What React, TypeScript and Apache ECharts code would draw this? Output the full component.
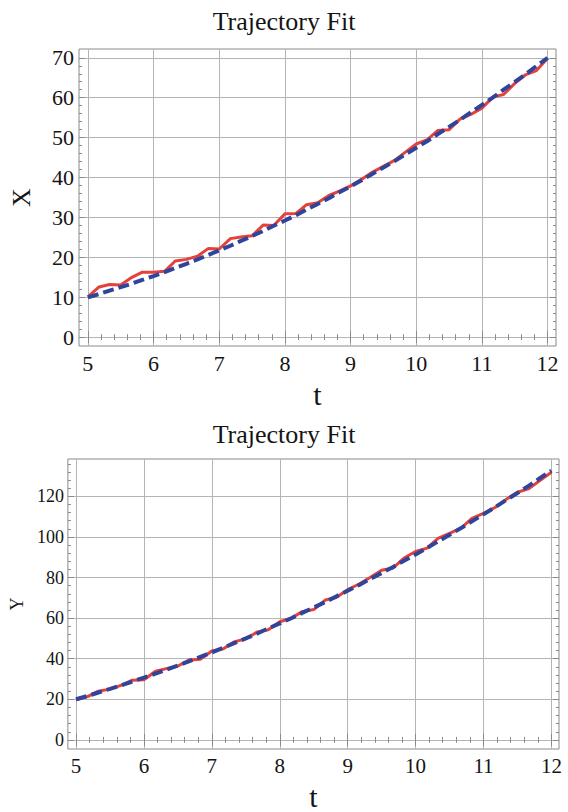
import React, { useEffect, useRef } from "react";
import * as echarts from "echarts";

// time samples (t)
const T = [5, 5.17, 5.33, 5.5, 5.67, 5.83, 6, 6.17, 6.33, 6.5, 6.67, 6.83, 7, 7.17, 7.33, 7.5, 7.67, 7.83, 8, 8.17, 8.33, 8.5, 8.67, 8.83, 9, 9.17, 9.33, 9.5, 9.67, 9.83, 10, 10.17, 10.33, 10.5, 10.67, 10.83, 11, 11.17, 11.33, 11.5, 11.67, 11.83, 12];

// X trajectory: measured and fitted
const X_DATA = [10.1, 12.6, 13.2, 13.1, 15.0, 16.3, 16.3, 16.5, 19.1, 19.5, 20.3, 22.2, 22.1, 24.7, 25.1, 25.4, 28.1, 28.0, 30.9, 31.0, 33.2, 33.7, 35.5, 36.6, 37.9, 39.6, 41.3, 42.8, 44.3, 46.3, 48.4, 49.5, 51.8, 52.0, 54.7, 55.8, 57.4, 60.2, 60.8, 63.6, 65.8, 66.8, 69.9];
const X_FIT = [10, 10.81, 11.66, 12.53, 13.43, 14.37, 15.33, 16.32, 17.35, 18.4, 19.48, 20.6, 21.74, 22.91, 24.12, 25.35, 26.61, 27.91, 29.23, 30.58, 31.97, 33.38, 34.82, 36.3, 37.8, 39.33, 40.9, 42.49, 44.11, 45.77, 47.45, 49.16, 50.91, 52.68, 54.48, 56.32, 58.18, 60.07, 62.0, 63.95, 65.93, 67.95, 70.0];

// Y trajectory: measured and fitted
const Y_DATA = [19.7, 21.3, 24.0, 25.0, 27.0, 29.4, 29.6, 33.8, 35.1, 36.4, 39.4, 39.7, 43.8, 44.9, 48.3, 49.8, 53.2, 54.3, 58.2, 59.9, 63.2, 64.2, 68.9, 70.1, 74.0, 76.8, 80.0, 83.6, 84.7, 89.6, 92.8, 94.5, 99.3, 101.8, 104.3, 109.1, 111.6, 114.5, 118.4, 122.0, 123.8, 127.8, 131.9];
const Y_FIT = [20, 21.65, 23.35, 25.1, 26.9, 28.75, 30.65, 32.6, 34.6, 36.65, 38.76, 40.91, 43.11, 45.37, 47.67, 50.02, 52.43, 54.89, 57.39, 59.95, 62.55, 65.21, 67.92, 70.68, 73.49, 76.35, 79.26, 82.22, 85.23, 88.29, 91.4, 94.56, 97.77, 101.04, 104.35, 107.71, 111.13, 114.59, 118.1, 121.67, 125.29, 128.95, 132.67];

// tick labels
const T_TICKS = [5, 6, 7, 8, 9, 10, 11, 12];
const X_TICKS = [0, 10, 20, 30, 40, 50, 60, 70];
const Y_TICKS = [0, 20, 40, 60, 80, 100, 120];

const TITLE = "Trajectory Fit";

const SERIF = "Liberation Serif";
const RED = "#e5413a";
const BLUE = "#30449c";
const GRIDC = "#b4b4b4";
const FRAME = "#8a8a8a";
const INK = "#141414";

function minorBetween(major: number[], parts: number, extraEnd = 0): number[] {
  const out: number[] = [];
  const step = (major[1] - major[0]) / parts;
  for (let i = 0; i < major.length - 1 + extraEnd; i++) {
    for (let k = 1; k < parts; k++) out.push(+(major[0] + (i * parts + k) * step).toFixed(4));
  }
  return out;
}

function axes(
  dim: "x" | "y",
  gridIndex: number,
  min: number,
  max: number,
  major: number[],
  minor: number[],
  labelSize: number,
  labelMargin: number,
  name?: string,
  nameSize?: number,
  nameGap?: number
) {
  const pos = dim === "x" ? ["bottom", "top"] : ["left", "right"];
  const base = { type: "value", gridIndex, min, max, axisLine: { show: false } };
  const tick = (vals: number[], len: number) => ({
    show: true,
    inside: true,
    length: len,
    customValues: vals,
    lineStyle: { color: FRAME, width: 1 },
  });
  return [
    {
      ...base,
      position: pos[0],
      name,
      nameLocation: "middle",
      nameGap,
      nameTextStyle: { fontFamily: SERIF, fontSize: nameSize, color: INK },
      axisTick: tick(major, 6),
      axisLabel: {
        customValues: major,
        fontFamily: SERIF,
        fontSize: labelSize,
        color: INK,
        margin: labelMargin,
        formatter: (v: number) => "{s|" + v + "}",
        rich: { s: { fontFamily: SERIF, fontSize: labelSize, color: INK } },
      },
      splitLine: { show: true, lineStyle: { color: GRIDC, width: 1 } },
    },
    {
      ...base,
      position: pos[0],
      axisTick: tick(minor, 3),
      axisLabel: { show: false },
      splitLine: { show: false },
    },
    {
      ...base,
      position: pos[1],
      axisTick: tick(major, 6),
      axisLabel: { show: false },
      splitLine: { show: false },
    },
    {
      ...base,
      position: pos[1],
      axisTick: tick(minor, 3),
      axisLabel: { show: false },
      splitLine: { show: false },
    },
  ];
}

export default function App() {
  const ref = useRef<HTMLDivElement>(null);
  useEffect(() => {
    if (!ref.current) return;
    const chart = echarts.init(ref.current, null, { renderer: "svg" });
    const tMinor = minorBetween(T_TICKS, 5);
    const xMinor = minorBetween(X_TICKS, 5);
    const yMinor = minorBetween(Y_TICKS, 5, 1).filter((v) => v < 138);

    const line = (xi: number, yi: number, t: number[], v: number[], fit: boolean) => ({
      type: "line",
      xAxisIndex: xi,
      yAxisIndex: yi,
      data: t.map((tt, i) => [tt, v[i]]),
      showSymbol: false,
      symbol: "none",
      z: fit ? 4 : 3,
      lineStyle: fit
        ? { color: BLUE, width: 4, type: [11, 5] }
        : { color: RED, width: 3 },
    });

    chart.setOption({
      animation: false,
      backgroundColor: "#ffffff",
      textStyle: { fontFamily: SERIF },
      title: [
        {
          text: TITLE,
          left: "center",
          top: 3,
          textStyle: { fontFamily: SERIF, fontSize: 26, fontWeight: "normal", color: INK },
        },
        {
          text: TITLE,
          left: "center",
          top: 416,
          textStyle: { fontFamily: SERIF, fontSize: 26, fontWeight: "normal", color: INK },
        },
      ],
      grid: [
        { left: 75, top: 49, width: 481, height: 297, show: true, borderColor: FRAME, borderWidth: 1, backgroundColor: "transparent" },
        { left: 60, top: 459, width: 499, height: 293, show: true, borderColor: FRAME, borderWidth: 1, backgroundColor: "transparent" },
      ],
      xAxis: [
        ...axes("x", 0, 4.865, 12.128, T_TICKS, tMinor, 22, 6, "t", 30, 33),
        ...axes("x", 1, 4.88, 12.112, T_TICKS, tMinor, 21, 6, "t", 30, 32),
      ],
      yAxis: [
        ...axes("y", 0, -2.2, 72.2, X_TICKS, xMinor, 22, 5, "X", 26, 45),
        ...axes("y", 1, -4.5, 138.4, Y_TICKS, yMinor, 18, 4, "Y", 18, 38),
      ],
      series: [
        line(0, 0, T, X_DATA, false),
        line(0, 0, T, X_FIT, true),
        line(4, 4, T, Y_DATA, false),
        line(4, 4, T, Y_FIT, true),
      ],
    });
    return () => chart.dispose();
  }, []);
  return (
    <div
      ref={ref}
      style={{ position: "absolute", left: 0, top: 0, width: 568, height: 812, background: "#fff" }}
    />
  );
}
